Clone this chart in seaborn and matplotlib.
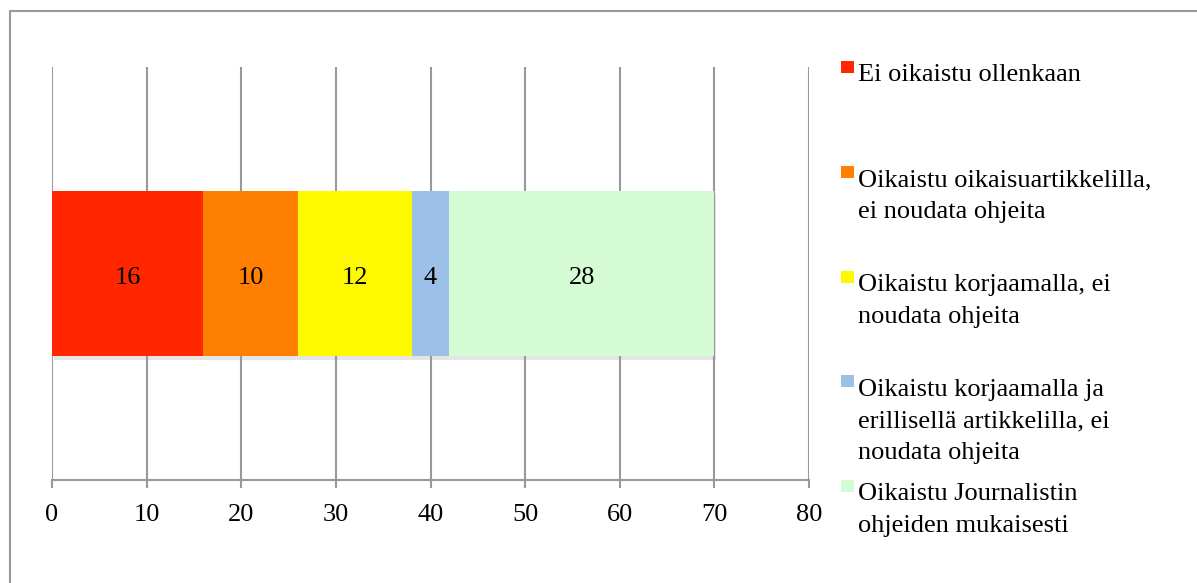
import numpy as np
import pandas as pd
import matplotlib.pyplot as plt
import seaborn as sns
from matplotlib import patheffects
from matplotlib.patches import Rectangle
from matplotlib.lines import Line2D

# data
categories = [
    "Ei oikaistu ollenkaan",
    "Oikaistu oikaisuartikkelilla,\nei noudata ohjeita",
    "Oikaistu korjaamalla, ei\nnoudata ohjeita",
    "Oikaistu korjaamalla ja\nerillisellä artikkelilla, ei\nnoudata ohjeita",
    "Oikaistu Journalistin\nohjeiden mukaisesti",
]
values = [16, 10, 12, 4, 28]
colors = ["#FF2600", "#FF7F00", "#FFF900", "#9DC0E8", "#D5FBD5"]
xticks = [0, 10, 20, 30, 40, 50, 60, 70, 80]

sns.set_style("white")
plt.rcParams["font.family"] = ["Liberation Serif", "DejaVu Serif"]
plt.rcParams["text.color"] = "black"
plt.rcParams["xtick.labelcolor"] = "black"

W, H = 1197, 583
fig = plt.figure(figsize=(W / 100, H / 100), dpi=100)
ax = fig.add_axes([52 / W, 1 - 480 / H, (809 - 52) / W, (480 - 67) / H])

ends = np.cumsum(values)
starts = ends - np.array(values)
df = pd.DataFrame({"group": ["all"] * len(values), "end": ends,
                   "start": starts, "value": values})

# stacked bar: draw cumulative totals from the back to the front
for i in reversed(range(len(values))):
    sns.barplot(data=df.iloc[[i]], x="end", y="group", orient="h",
                color=colors[i], saturation=1, width=0.4, linewidth=0,
                ax=ax, zorder=3)
    if i == len(values) - 1:
        ax.patches[-1].set_path_effects([
            patheffects.SimplePatchShadow(offset=(1.5, -2.5), shadow_rgbFace="#999999", alpha=0.25),
            patheffects.Normal()])

for s, v in zip(starts, values):
    ax.text(s + v / 2, 0.01, str(v), ha="center", va="center", fontsize=19,
            color="black", zorder=4)

ax.set_xlim(0, 80)
ax.set_ylim(0.5, -0.5)
ax.set_xticks(xticks)
ax.set_yticks([])
ax.set_xlabel("")
ax.set_ylabel("")
ax.grid(axis="x", color="#999999", linewidth=1.5)
ax.set_axisbelow(True)
for side in ["left", "top", "right"]:
    ax.spines[side].set_visible(False)
ax.spines["bottom"].set_color("#999999")
ax.spines["bottom"].set_linewidth(1.5)
ax.tick_params(axis="x", bottom=True, direction="out", length=6, width=1.5,
               color="#999999", labelsize=19, pad=11)

# legend (multi-line labels are placed by the baseline of their last line)
line_px = 32
for i, (lab, col) in enumerate(zip(categories, colors)):
    base = 81 + i * 104.75
    nlines = lab.count("\n")
    fig.patches.append(Rectangle((841 / W, 1 - (base - 8) / H), 13 / W, 12 / H,
                                 transform=fig.transFigure, facecolor=col,
                                 edgecolor="none"))
    fig.text(858 / W, 1 - (base + nlines * line_px) / H, lab, ha="left",
             va="baseline", fontsize=19, linespacing=1.575, color="black")

# outer frame (cut at the right and bottom)
fig.add_artist(Line2D([10 / W, 10 / W], [0, 1 - 11 / H], transform=fig.transFigure,
                      color="#999999", linewidth=1.5))
fig.add_artist(Line2D([10 / W, 1], [1 - 11 / H, 1 - 11 / H], transform=fig.transFigure,
                      color="#999999", linewidth=1.5))

fig.savefig("out.png", dpi=100)
